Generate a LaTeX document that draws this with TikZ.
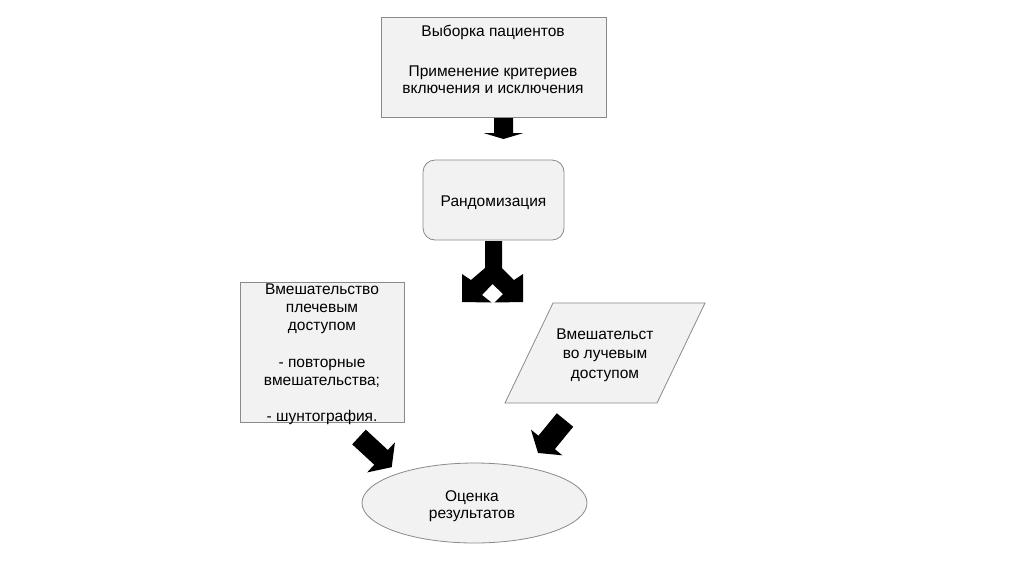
\documentclass[tikz,border=0pt]{standalone}
\usepackage{fontspec}
\setmainfont{Liberation Sans}
\usetikzlibrary{shapes.geometric}
\definecolor{boxfill}{HTML}{F2F2F2}
\definecolor{boxline}{HTML}{8A8A8A}
\newcommand\blkarrow[7]{%
  \begin{scope}[shift={(#1,#2)},rotate=#3]
    \fill[arrowfill] (0,-#6) -- (#4,-#6) -- (#4,-#7) -- (#5,0) -- (#4,#7) -- (#4,#6) -- (0,#6) -- cycle;
  \end{scope}}
\tikzset{
  shapebox/.style={draw=boxline, fill=boxfill, line width=0.8pt, inner sep=0pt},
  txt/.style={align=center, inner sep=0pt, text=black},
  arrowfill/.style={fill=black},
}
\begin{document}
\begin{tikzpicture}[x=1pt,y=-1pt]
\useasboundingbox[fill=white] (0,0) rectangle (1024,574);

% top box
\node[shapebox, minimum width=225pt, minimum height=100pt] (sel) at (493.5,67) {};
\node[txt, font=\fontsize{15.5}{16.6}\selectfont] (seltxt) at (493,59.3)
  {Выборка пациентов\\[23.6pt]Применение критериев\\включения и исключения};

% arrow down
\blkarrow{503.5}{118}{-90}{15}{21}{9.5}{20}

% randomisation
\node[shapebox, rounded corners=12pt, minimum width=141pt, minimum height=80pt] (rand) at (493.5,200) {};
\node[txt, font=\fontsize{15.5}{16.6}\selectfont, anchor=base] (randtxt) at (493.5,206.7) {Рандомизация};

% split arrow
\fill[arrowfill] (485,241) -- (502,241) -- (502,268) -- (514,280) -- (523,274) -- (523,302)
  -- (494.5,302.5) -- (503,294) -- (492.5,284) -- (482,295) -- (491.5,302.5) -- (462,302)
  -- (462,274) -- (471,280) -- (485,268) -- cycle;

% left intervention box
\node[shapebox, minimum width=164pt, minimum height=140pt] (left) at (322,352) {};
\node[txt, font=\fontsize{15.5}{18.24}\selectfont] (lefttxt) at (322,354.2)
  {Вмешательство\\плечевым\\доступом\\[18.24pt]- повторные\\вмешательства;\\[18.24pt]- шунтография.};

% right parallelogram
\coordinate (p1) at (553,303);
\coordinate (p2) at (705,303);
\coordinate (p3) at (657,403);
\coordinate (p4) at (505,403);
\draw[shapebox] (p1) -- (p2) -- (p3) -- (p4) -- cycle;
\node[txt, font=\fontsize{15.5}{19.15}\selectfont] (righttxt) at (605,355.2)
  {Вмешательст\\во лучевым\\доступом};

% arrows to result
\blkarrow{359}{437}{-42.7}{30}{44.5}{10}{20.5}
\blkarrow{565}{420}{-129.3}{29}{42.6}{10.6}{20.3}

% result ellipse
\node[shapebox, ellipse, minimum width=225pt, minimum height=80pt] (res) at (474.5,503) {};
\node[txt, font=\fontsize{15.5}{16.6}\selectfont] (restxt) at (472,505.9)
  {Оценка\\результатов};
\end{tikzpicture}
\end{document}
